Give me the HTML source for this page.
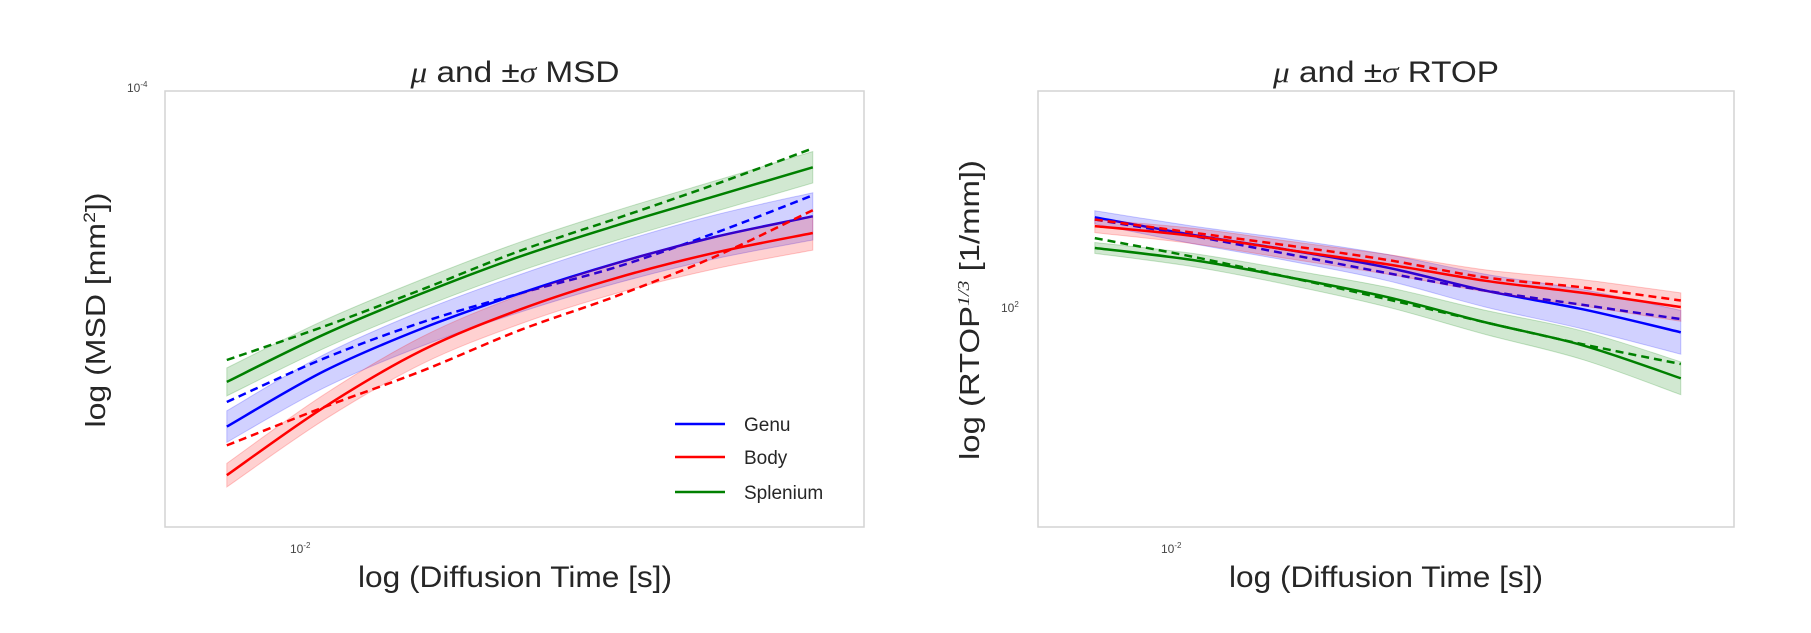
<!DOCTYPE html>
<html><head><meta charset="utf-8"><style>
html,body{margin:0;padding:0;background:#fff;}
svg{display:block;font-family:"Liberation Sans",sans-serif;}
</style></head><body>
<svg id="fig" width="1811" height="633" viewBox="0 0 1811 633">
<g id="left">
<rect x="165" y="91" width="699" height="436" fill="#fff" stroke="#d3d3d3" stroke-width="1.5"/>
<text x="515" y="82" text-anchor="middle" font-size="30" fill="#262626" textLength="209" lengthAdjust="spacingAndGlyphs"><tspan font-family="Liberation Serif" font-style="italic">μ</tspan> and ±<tspan font-family="Liberation Serif" font-style="italic">σ</tspan> MSD</text>
<text x="515" y="587" text-anchor="middle" font-size="30" fill="#262626" textLength="314" lengthAdjust="spacingAndGlyphs">log (Diffusion Time [s])</text>
<text transform="translate(105,310) rotate(-90)" text-anchor="middle" font-size="28" fill="#262626" textLength="235" lengthAdjust="spacingAndGlyphs">log (MSD [mm<tspan font-size="17" dy="-10">2</tspan><tspan dy="10">])</tspan></text>
<text x="127" y="92" font-size="12" fill="#444">10<tspan font-size="8" dy="-5">-4</tspan></text>
<text x="290" y="553" font-size="12" fill="#444">10<tspan font-size="8" dy="-5">-2</tspan></text>
<g id="leftMarks"></g>
<g>
<line x1="675" y1="424" x2="725" y2="424" stroke="#0000ff" stroke-width="2.5"/>
<text x="744" y="431" font-size="19" fill="#262626">Genu</text>
<line x1="675" y1="457" x2="725" y2="457" stroke="#ff0000" stroke-width="2.5"/>
<text x="744" y="464" font-size="19" fill="#262626">Body</text>
<line x1="675" y1="492" x2="725" y2="492" stroke="#008000" stroke-width="2.5"/>
<text x="744" y="499" font-size="19" fill="#262626">Splenium</text>
</g>
</g>
<g id="right">
<rect x="1038" y="91" width="696" height="436" fill="#fff" stroke="#d3d3d3" stroke-width="1.5"/>
<text x="1386" y="82" text-anchor="middle" font-size="30" fill="#262626" textLength="226" lengthAdjust="spacingAndGlyphs"><tspan font-family="Liberation Serif" font-style="italic">μ</tspan> and ±<tspan font-family="Liberation Serif" font-style="italic">σ</tspan> RTOP</text>
<text x="1386" y="587" text-anchor="middle" font-size="30" fill="#262626" textLength="314" lengthAdjust="spacingAndGlyphs">log (Diffusion Time [s])</text>
<text transform="translate(979,310) rotate(-90)" text-anchor="middle" font-size="28" fill="#262626" textLength="300" lengthAdjust="spacingAndGlyphs">log (RTOP<tspan font-size="17" dy="-10" font-family="Liberation Serif" font-style="italic">1/3</tspan><tspan dy="10"> [1/mm])</tspan></text>
<text x="1001" y="312" font-size="12" fill="#444">10<tspan font-size="8" dy="-5">2</tspan></text>
<text x="1161" y="553" font-size="12" fill="#444">10<tspan font-size="8" dy="-5">-2</tspan></text>
<g id="rightMarks"></g>
</g>
</svg>
<script>
const logTime = [-2.19, -1.943, -1.697, -1.45, -1.203, -0.957, -0.71];
// MSD (log10 mm^2)
const msdGenuMean = [-4.773, -4.646, -4.549, -4.469, -4.399, -4.340, -4.293];
const msdGenuFit = [-4.717, -4.617, -4.535, -4.469, -4.408, -4.331, -4.245];
const msdGenuSd = [0.036, 0.038, 0.040, 0.043, 0.046, 0.050, 0.054];
const msdBodyMean = [-4.884, -4.728, -4.599, -4.506, -4.433, -4.376, -4.331];
const msdBodyFit = [-4.816, -4.728, -4.646, -4.553, -4.474, -4.385, -4.279];
const msdBodySd = [0.027, 0.029, 0.031, 0.033, 0.035, 0.037, 0.039];
const msdSplMean = [-4.671, -4.562, -4.469, -4.385, -4.313, -4.247, -4.181];
const msdSplFit = [-4.621, -4.544, -4.460, -4.372, -4.297, -4.220, -4.138];
const msdSplSd = [0.032, 0.032, 0.032, 0.033, 0.034, 0.035, 0.036];
// RTOP (log10 1/mm)
const rtGenuMean = [2.081, 2.065, 2.051, 2.035, 2.014, 1.997, 1.976];
const rtGenuFit = [2.079, 2.064, 2.047, 2.030, 2.014, 2.001, 1.988];
const rtGenuSd = [0.006, 0.008, 0.010, 0.012, 0.015, 0.018, 0.020];
const rtBodyMean = [2.073, 2.064, 2.051, 2.038, 2.023, 2.012, 1.999];
const rtBodyFit = [2.079, 2.067, 2.055, 2.042, 2.026, 2.017, 2.005];
const rtBodySd = [0.006, 0.007, 0.008, 0.009, 0.010, 0.012, 0.013];
const rtSplMean = [2.053, 2.042, 2.026, 2.008, 1.985, 1.964, 1.934];
const rtSplFit = [2.062, 2.045, 2.026, 2.006, 1.985, 1.965, 1.947];
const rtSplSd = [0.005, 0.006, 0.007, 0.009, 0.011, 0.013, 0.015];

const NS = "http://www.w3.org/2000/svg";
function xL(v){return 302 + (v + 2) * 396;}
function xR(v){return 1170 + (v + 2) * 396;}
function yL(v){return 88 + (-4 - v) / 1.0 * 438;}
function yR(v){return 87 + (2.2 - v) / 0.4 * 438;}

// smooth path through points (Catmull-Rom -> Bezier); cont=true continues without M
function smooth(pts, cont){
  let d = (cont ? " L" : "M") + pts[0][0].toFixed(1) + "," + pts[0][1].toFixed(1);
  for (let i = 0; i < pts.length - 1; i++){
    const p0 = pts[Math.max(0, i - 1)], p1 = pts[i], p2 = pts[i + 1], p3 = pts[Math.min(pts.length - 1, i + 2)];
    const c1x = p1[0] + (p2[0] - p0[0]) / 6, c1y = p1[1] + (p2[1] - p0[1]) / 6;
    const c2x = p2[0] - (p3[0] - p1[0]) / 6, c2y = p2[1] - (p3[1] - p1[1]) / 6;
    d += " C" + c1x.toFixed(1) + "," + c1y.toFixed(1) + " " + c2x.toFixed(1) + "," + c2y.toFixed(1) + " " + p2[0].toFixed(1) + "," + p2[1].toFixed(1);
  }
  return d;
}

function draw(gid, xs, ys, mean, fit, sd, color, name){
  const g = document.getElementById(gid);
  const up = logTime.map((t, i) => [xs(t), ys(mean[i] + sd[i])]);
  const dn = logTime.map((t, i) => [xs(t), ys(mean[i] - sd[i])]).reverse();
  const band = document.createElementNS(NS, "path");
  band.setAttribute("d", smooth(up, false) + smooth(dn, true) + " Z");
  band.setAttribute("fill", color);
  band.setAttribute("fill-opacity", "0.18");
  band.setAttribute("stroke", color);
  band.setAttribute("stroke-opacity", "0.2");
  
  
  g.appendChild(band);
  function line(arr, dash, suffix){
    const p = document.createElementNS(NS, "path");
    p.setAttribute("d", smooth(logTime.map((t, i) => [xs(t), ys(arr[i])]), false));
    p.setAttribute("fill", "none");
    p.setAttribute("stroke", color);
    p.setAttribute("stroke-width", "2.5");
    if (dash) p.setAttribute("stroke-dasharray", "8,5");
    
    
    g.appendChild(p);
  }
  line(mean, false, '-mean-line');
  line(fit, true, '-fit-line');
}
draw("leftMarks", xL, yL, msdSplMean, msdSplFit, msdSplSd, "#008000", "msd-splenium");
draw("leftMarks", xL, yL, msdGenuMean, msdGenuFit, msdGenuSd, "#0000ff", "msd-genu");
draw("leftMarks", xL, yL, msdBodyMean, msdBodyFit, msdBodySd, "#ff0000", "msd-body");
draw("rightMarks", xR, yR, rtSplMean, rtSplFit, rtSplSd, "#008000", "rtop-splenium");
draw("rightMarks", xR, yR, rtGenuMean, rtGenuFit, rtGenuSd, "#0000ff", "rtop-genu");
draw("rightMarks", xR, yR, rtBodyMean, rtBodyFit, rtBodySd, "#ff0000", "rtop-body");
</script>
</body></html>
